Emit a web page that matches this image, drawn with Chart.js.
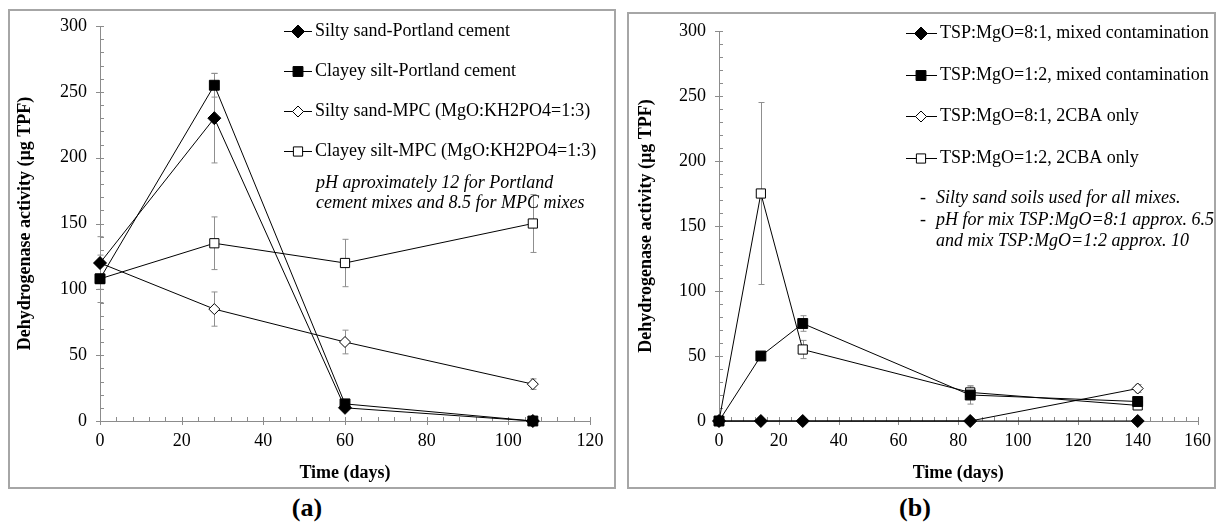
<!DOCTYPE html>
<html>
<head>
<meta charset="utf-8">
<script src="https://cdn.jsdelivr.net/npm/chart.js@4.4.0/dist/chart.umd.min.js"></script>
<style>
  body { margin:0; width:1220px; height:525px; background:#fff; position:relative; overflow:hidden; }
  .frame { position:absolute; border:2px solid #a6a6a6; box-sizing:border-box; }
  .wrap { position:absolute; top:0; }
  .tag { position:absolute; width:100px; text-align:center; top:495px; font:bold 26px "Liberation Serif", serif; line-height:26px; }
</style>
</head>
<body>
<div class="frame" style="left:8px; top:9px; width:608px; height:480px;"></div>
<div class="frame" style="left:627px; top:12px; width:589px; height:477px;"></div>
<div class="wrap" style="left:0px;"><canvas id="chartA" width="620" height="490"></canvas></div>
<div class="wrap" style="left:620px;"><canvas id="chartB" width="600" height="490"></canvas></div>
<div class="tag" style="left:257px;">(a)</div>
<div class="tag" style="left:865px;">(b)</div>
<script>
// panel (a)
const daysA = [0, 28, 60, 106];
const labelsA = ['Silty sand-Portland cement', 'Clayey silt-Portland cement',
  'Silty sand-MPC (MgO:KH2PO4=1:3)', 'Clayey silt-MPC (MgO:KH2PO4=1:3)'];
const sandPC = [120, 230, 10, 0];
const siltPC = [108, 255, 13, 0];
const sandMPC = [120, 85, 60, 28];
const siltMPC = [108, 135, 120, 150];
// error bars (+/-)
const sandPCErr = [20, 34, null, null];
const siltPCErr = [18, 9, null, null];
const sandMPCErr = [null, 13, 9, 4];
const siltMPCErr = [null, 20, 18, 22];
const notesA = ['pH aproximately 12 for Portland', 'cement mixes and 8.5 for MPC mixes'];

// panel (b)
const daysB = [0, 14, 28, 84, 140];
const labelsB = ['TSP:MgO=8:1, mixed contamination', 'TSP:MgO=1:2, mixed contamination',
  'TSP:MgO=8:1, 2CBA only', 'TSP:MgO=1:2, 2CBA only'];
const mix81 = [0, 0, 0, 0, 0];
const mix12 = [0, 50, 75, 20, 15];
const cba81 = [0, 0, 0, 0, 25];
const cba12 = [0, 175, 55, 22, 12];
const mix81Err = [null, null, null, null, null];
const mix12Err = [null, null, 6, 7, 3];
const cba81Err = [null, null, null, null, 3];
const cba12Err = [null, 70, 7, 5, 3];
const notesB = ['Silty sand soils used for all mixes.', 'pH for mix TSP:MgO=8:1 approx. 6.5', 'and mix TSP:MgO=1:2 approx. 10'];

const yTicks = [0, 50, 100, 150, 200, 250, 300];

const FONT = '"Liberation Serif", "Times New Roman", serif';
const markers = [
  { style: 'rectRot', r: 6.5, fill: '#000' },
  { style: 'rect', r: 7, fill: '#000' },
  { style: 'rectRot', r: 5.5, fill: '#fff' },
  { style: 'rect', r: 6.5, fill: '#fff' }
];

function drawMarker(ctx, m, x, y) {
  ctx.beginPath();
  if (m.style === 'rectRot') {
    ctx.moveTo(x, y - m.r); ctx.lineTo(x + m.r, y); ctx.lineTo(x, y + m.r); ctx.lineTo(x - m.r, y);
    ctx.closePath();
  } else {
    const h = m.r * Math.SQRT1_2;
    ctx.rect(x - h, y - h, 2 * h, 2 * h);
  }
  ctx.fillStyle = m.fill; ctx.fill();
  ctx.strokeStyle = '#000'; ctx.lineWidth = 1; ctx.stroke();
}

// minor / major tick marks like the spreadsheet axes
const axisTicks = {
  id: 'axisTicks',
  beforeDatasetsDraw(chart, args, o) {
    const { ctx, scales: { x, y } } = chart;
    const x0 = x.getPixelForValue(0), y0 = y.getPixelForValue(0);
    ctx.save();
    ctx.strokeStyle = '#8c8c8c'; ctx.lineWidth = 1;
    ctx.beginPath();
    for (let v = 0; v <= y.max; v += 10) {
      const py = Math.round(y.getPixelForValue(v)) + 0.5;
      const major = v % 50 === 0;
      ctx.moveTo(x0 - (major ? 4 : 0), py); ctx.lineTo(x0 + 4, py);
    }
    for (let v = 0; v <= x.max; v += 4) {
      const px = Math.round(x.getPixelForValue(v)) + 0.5;
      const major = v % 20 === 0;
      ctx.moveTo(px, y0 - 4); ctx.lineTo(px, y0 + (major ? 4 : 0));
    }
    ctx.stroke();
    ctx.restore();
  }
};

const errorBars = {
  id: 'errorBars',
  beforeDatasetsDraw(chart, args, o) {
    const { ctx, scales: { x, y } } = chart;
    ctx.save();
    ctx.strokeStyle = '#8f8f8f'; ctx.lineWidth = 1;
    ctx.beginPath();
    o.errs.forEach((errs, si) => {
      const pts = chart.data.datasets[si].data;
      errs.forEach((e, i) => {
        if (!e) return;
        const px = Math.round(x.getPixelForValue(pts[i].x)) + 0.5;
        const t = y.getPixelForValue(pts[i].y + e), b = y.getPixelForValue(pts[i].y - e);
        ctx.moveTo(px, t); ctx.lineTo(px, b);
        ctx.moveTo(px - 3, t); ctx.lineTo(px + 3, t);
        ctx.moveTo(px - 3, b); ctx.lineTo(px + 3, b);
      });
    });
    ctx.stroke();
    ctx.restore();
  }
};

const legendBox = {
  id: 'legendBox',
  afterDraw(chart, args, o) {
    const ctx = chart.ctx;
    ctx.save();
    ctx.textBaseline = 'middle';
    chart.data.datasets.forEach((ds, i) => {
      const y = o.ys[i];
      ctx.strokeStyle = '#000'; ctx.lineWidth = 1;
      ctx.beginPath(); ctx.moveTo(o.x0, y + 0.5); ctx.lineTo(o.x1, y + 0.5); ctx.stroke();
      drawMarker(ctx, markers[i], o.mx, y + 0.5);
      ctx.fillStyle = '#000';
      ctx.font = '18px ' + FONT;
      ctx.fillText(ds.label, o.tx, y);
    });
    ctx.font = 'italic 18px ' + FONT;
    o.notes.forEach((t, i) => {
      if (o.dash && i < 2) ctx.fillText('-', o.dash, o.ny[i]);
      ctx.fillText(t, o.nx, o.ny[i]);
    });
    ctx.restore();
  }
};

function makeChart(id, days, labels, series, errs, xMax, pad, titlePad, legendOpts) {
  const datasets = series.map((vals, i) => ({
    label: labels[i],
    data: days.map((d, j) => ({ x: d, y: vals[j] })),
    borderColor: '#000',
    borderWidth: 1,
    pointStyle: markers[i].style,
    pointRadius: markers[i].r,
    pointBackgroundColor: markers[i].fill,
    pointBorderColor: '#000',
    pointBorderWidth: 1,
    fill: false,
    tension: 0,
    clip: false
  }));
  return new Chart(document.getElementById(id), {
    type: 'line',
    data: { datasets: datasets },
    options: {
      responsive: false,
      animation: false,
      events: [],
      layout: { padding: pad },
      scales: {
        x: {
          type: 'linear', min: 0, max: xMax,
          afterBuildTicks: s => { s.ticks = []; for (let v = 0; v <= xMax; v += 20) s.ticks.push({ value: v }); },
          ticks: { font: { family: FONT, size: 18 }, color: '#000', padding: 9, maxRotation: 0 },
          grid: { display: false, drawTicks: false },
          border: { color: '#8c8c8c', width: 1 },
          title: { display: true, text: 'Time (days)', color: '#000',
            font: { family: FONT, size: 18, weight: 'bold' }, padding: { top: 0, bottom: 6 } },
          afterFit: s => { s.height = 69; }
        },
        y: {
          type: 'linear', min: 0, max: 300,
          afterBuildTicks: s => { s.ticks = yTicks.map(v => ({ value: v })); },
          ticks: { font: { family: FONT, size: 18 }, color: '#000', padding: 13 },
          grid: { display: false, drawTicks: false },
          border: { color: '#8c8c8c', width: 1 },
          title: { display: true, text: 'Dehydrogenase activity (µg TPF)', color: '#000',
            font: { family: FONT, size: 18, weight: 'bold' }, padding: { top: titlePad, bottom: 0 } },
          afterFit: s => { s.width = pad.yw; }
        }
      },
      plugins: {
        legend: { display: false },
        tooltip: { enabled: false },
        errorBars: { errs: errs },
        legendBox: legendOpts
      }
    },
    plugins: [axisTicks, errorBars, legendBox]
  });
}

makeChart('chartA', daysA, labelsA, [sandPC, siltPC, sandMPC, siltMPC],
  [sandPCErr, siltPCErr, sandMPCErr, siltMPCErr], 120,
  { left: 0, top: 26, right: 30, bottom: 0, yw: 100 }, 15,
  { x0: 284, mx: 298, x1: 312, tx: 315, ys: [31, 71, 111, 151], notes: notesA, nx: 316, ny: [183, 203] });

makeChart('chartB', daysB, labelsB, [mix81, mix12, cba81, cba12],
  [mix81Err, mix12Err, cba81Err, cba12Err], 160,
  { left: 0, top: 31, right: 14, bottom: 0, yw: 99 }, 16,
  { x0: 286, mx: 301, x1: 317, tx: 320, ys: [33, 75, 116, 158], notes: notesB, dash: 300, nx: 316, ny: [198, 220, 241] });
</script>
</body>
</html>
